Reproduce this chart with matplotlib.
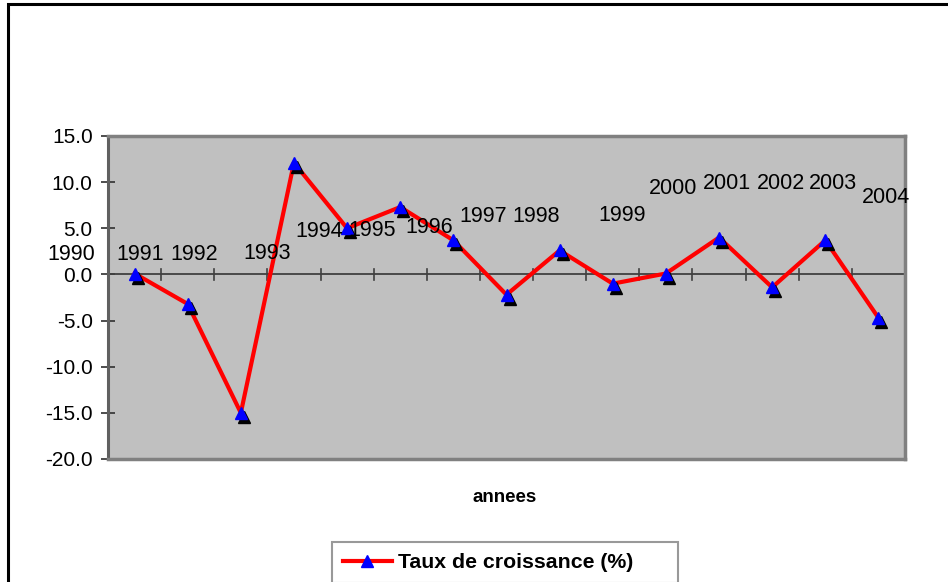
import matplotlib
matplotlib.use("Agg")
import matplotlib.pyplot as plt
import matplotlib.transforms as mtransforms
from matplotlib.patches import Rectangle
from matplotlib.lines import Line2D

plt.rcParams['font.family'] = ['Liberation Sans', 'DejaVu Sans']

# ---- data ----
years = ["1990", "1991", "1992", "1993", "1994", "1995", "1996", "1997",
         "1998", "1999", "2000", "2001", "2002", "2003", "2004"]
growth = [0.1, -3.2, -15.0, 12.1, 5.0, 7.3, 3.7, -2.2, 2.6, -1.0, 0.1, 4.0, -1.4, 3.7, -4.7]
y_ticks = [-20.0, -15.0, -10.0, -5.0, 0.0, 5.0, 10.0, 15.0]
series_name = "Taux de croissance (%)"
x_title = "annees"

# ---- layout of the (displaced) category labels, in data units ----
label_x = [-1.2, 0.1, 1.13, 2.5, 3.48, 4.47, 5.54, 6.57, 7.55, 9.18, 10.14, 11.15, 12.16, 13.15, 14.15]
label_y = [2.2, 2.2, 2.2, 2.3, 4.6, 4.8, 5.1, 6.3, 6.3, 6.4, 9.3, 9.9, 9.9, 9.9, 8.3]

W, H = 948, 582
fig = plt.figure(figsize=(W / 100, H / 100), dpi=100)
fig.patch.set_facecolor("white")

# outer frame (cut at right and bottom)
fig.add_artist(Rectangle((8 / W, -0.2), 1.5, 1.2 - 4 / H, transform=fig.transFigure,
                         fill=False, edgecolor="black", lw=2.2, clip_on=False))

ax = fig.add_axes([108 / W, 1 - 459 / H, 797 / W, 323 / H])
ax.set_facecolor("#C0C0C0")
ax.set_xlim(-0.5, len(years) - 0.5)
ax.set_ylim(-20, 15)

for s in ["top", "right", "bottom"]:
    ax.spines[s].set_color("#808080")
    ax.spines[s].set_linewidth(2.5)
ax.spines["left"].set_color("#606060")
ax.spines["left"].set_linewidth(2.2)

ax.set_yticks(y_ticks)
ax.set_yticklabels([f"{v:.1f}" for v in y_ticks], fontsize=15)
ax.tick_params(axis="y", direction="inout", length=10, width=1.2, color="#303030", pad=6)
ax.set_xticks([])

# horizontal category axis at y=0 with crossing ticks between categories
xs = list(range(len(years)))
ax.axhline(0, color="#404040", lw=1.3, zorder=2)
for k in range(len(years) + 1):
    ax.plot([k - 0.5, k - 0.5], [-0.6, 0.6], color="#404040", lw=1.2, zorder=2, clip_on=False)

# line
ax.plot(xs, growth, color="#FF0000", lw=3.0, zorder=3)
shadow = mtransforms.offset_copy(ax.transData, fig=fig, x=3, y=-4, units="dots")
ax.plot(xs, growth, linestyle="none", marker="^", ms=8.5, color="black", transform=shadow, zorder=4)
ax.plot(xs, growth, linestyle="none", marker="^", ms=8.5, color="#0000FF", zorder=5)

# category labels
for lbl, lx, ly in zip(years, label_x, label_y):
    ax.text(lx, ly, lbl, ha="center", va="center", fontsize=15.5, color="black",
            clip_on=False, zorder=6)

fig.text(505 / W, 1 - 497 / H, x_title, ha="center", va="center",
         fontsize=13.5, fontweight="bold")

# legend
handle = Line2D([], [], color="#FF0000", lw=3.0, marker="^", ms=8.5,
                markerfacecolor="#0000FF", markeredgecolor="#0000FF")
leg = fig.legend([handle], [series_name], loc="upper left",
                 bbox_to_anchor=(332 / W, 1 - 543 / H, 346 / W, 0.001),
                 mode="expand", frameon=True, fancybox=False,
                 prop={"weight": "bold", "size": 15.3}, handlelength=2.3,
                 borderpad=0.5, handletextpad=0.3, borderaxespad=0)
leg.get_frame().set_edgecolor("#808080")
leg.get_frame().set_linewidth(1.5)

fig.savefig("out.png", dpi=100, facecolor="white")
